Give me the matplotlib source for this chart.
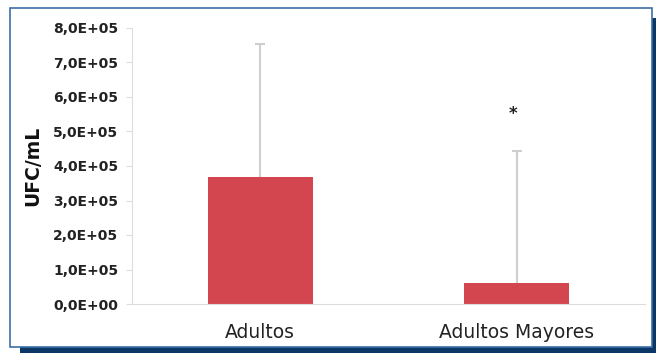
import matplotlib.pyplot as plt
from matplotlib.patches import Rectangle
from matplotlib.ticker import FuncFormatter

categories = ['Adultos', 'Adultos Mayores']
means = [3.68e5, 0.61e5]
upper_err = [3.86e5, 3.82e5]
y_ticks = [0, 1e5, 2e5, 3e5, 4e5, 5e5, 6e5, 7e5, 8e5]

W, H = 656, 353
fig = plt.figure(figsize=(W / 100, H / 100), dpi=100)
fig.patch.set_facecolor('white')

# shadow + framed box
fig.patches.append(Rectangle((20 / W, 0), (W - 20) / W, (H - 18) / H,
                             transform=fig.transFigure, facecolor='#0b3766',
                             edgecolor='none', zorder=0))
fig.patches.append(Rectangle((10 / W, 6 / H), 642 / W, 339 / H,
                             transform=fig.transFigure, facecolor='white',
                             edgecolor='#3c6fa6', linewidth=1.2, zorder=1))

ax = fig.add_axes([132 / W, 49 / H, 513 / W, 276 / H])
ax.set_zorder(5)
ax.set_facecolor('none')
x = list(range(len(categories)))
tops = [m + e for m, e in zip(means, upper_err)]
ax.bar(x, means, width=0.41, color='#d4464f', zorder=2)
# upper whiskers only
ax.vlines(x, means, tops, color='#cfcfcf', linewidth=1.5, zorder=1)
ax.plot(x, tops, linestyle='none', marker='_', markersize=7,
        markeredgewidth=1.5, color='#cfcfcf', zorder=1)
ax.text(0.985, 5.5e5, '*', ha='center', va='center', fontsize=12,
        fontweight='bold', color='#222222')

ax.set_xlim(-0.5, 1.5)
ax.set_ylim(0, 8e5)
ax.set_yticks(y_ticks)
ax.yaxis.set_major_formatter(FuncFormatter(
    lambda v, p: ('%.1E' % v).replace('.', ',')))
ax.set_xticks(x)
ax.set_xticklabels(categories, fontsize=13.5, color='#222222')
for lab in ax.get_yticklabels():
    lab.set_fontweight('bold')
    lab.set_fontsize(10)
    lab.set_color('#222222')
ax.tick_params(axis='y', length=4, color='#dddddd', pad=6)
ax.tick_params(axis='x', length=0, pad=14)
for s in ['top', 'right']:
    ax.spines[s].set_visible(False)
ax.spines['left'].set_color('#dddddd')
ax.spines['bottom'].set_color('#dddddd')
ax.set_ylabel('UFC/mL', fontsize=13.5, fontweight='bold', color='#111111',
              va='center')
ax.yaxis.set_label_coords((33 - 132) / 513, 0.5)

fig.savefig('out.png', dpi=100)
